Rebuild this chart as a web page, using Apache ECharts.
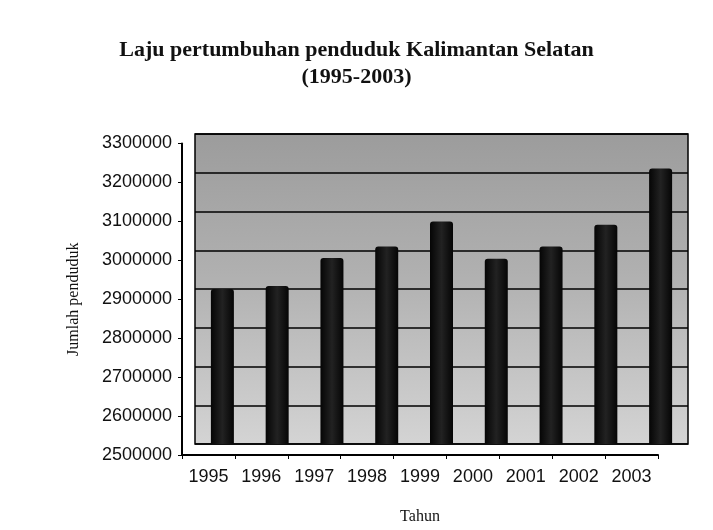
<!DOCTYPE html>
<html>
<head>
<meta charset="utf-8">
<script src="https://cdn.jsdelivr.net/npm/echarts@6/dist/echarts.min.js"></script>
<style>
  html, body { margin: 0; padding: 0; background: #fff; }
  #chart { width: 713px; height: 530px; }
</style>
</head>
<body>
<div id="chart"></div>
<script>
// data
const years = ['1995', '1996', '1997', '1998', '1999', '2000', '2001', '2002', '2003'];
const penduduk = [2900000, 2908000, 2980000, 3010000, 3074000, 2978000, 3010000, 3066000, 3211000];
const yMin = 2500000;
const yMax = 3300000;
const yStep = 100000;

const chart = echarts.init(document.getElementById('chart'), null, { renderer: 'canvas' });

const serif = '"Liberation Serif", "DejaVu Serif", serif';
const sans = '"Liberation Sans", Arial, sans-serif';

const option = {
  backgroundColor: '#ffffff',
  animation: false,
  title: {
    text: 'Laju pertumbuhan penduduk Kalimantan Selatan\n(1995-2003)',
    left: 'center',
    top: 32,
    textStyle: {
      fontFamily: serif,
      fontWeight: 'bold',
      fontSize: 22,
      lineHeight: 27,
      color: '#111'
    }
  },
  grid: [
    // dinding belakang (back wall) where the bars sit
    {
      left: 195, right: 25, top: 134, bottom: 86,
      show: true,
      backgroundColor: {
        type: 'linear', x: 0, y: 0, x2: 0, y2: 1,
        colorStops: [
          { offset: 0, color: '#9c9c9c' },
          { offset: 0.45, color: '#b0b0b0' },
          { offset: 1, color: '#d4d4d4' }
        ]
      },
      borderColor: '#000',
      borderWidth: 1.5
    },
    // front axes with the labels
    { left: 182, right: 55, top: 143.5, bottom: 75 }
  ],
  xAxis: [
    {
      gridIndex: 0,
      type: 'category',
      data: years,
      axisLine: { show: false },
      axisTick: { show: false },
      axisLabel: { show: false }
    },
    {
      gridIndex: 1,
      type: 'category',
      data: years,
      name: 'Tahun',
      nameLocation: 'middle',
      nameGap: 54,
      nameTextStyle: { fontFamily: serif, fontSize: 16, color: '#111' },
      axisLine: { lineStyle: { color: '#000', width: 2 } },
      axisTick: { show: true, length: 4, lineStyle: { color: '#000' } },
      axisLabel: { fontFamily: sans, fontSize: 18, color: '#111', margin: 13 }
    }
  ],
  yAxis: [
    {
      gridIndex: 0,
      type: 'value',
      min: yMin,
      max: yMax,
      interval: yStep,
      axisLine: { show: false },
      axisTick: { show: false },
      axisLabel: { show: false },
      splitLine: { show: true, lineStyle: { color: '#000', width: 1.5 } }
    },
    {
      gridIndex: 1,
      type: 'value',
      min: yMin,
      max: yMax,
      interval: yStep,
      name: 'Jumlah penduduk',
      nameLocation: 'middle',
      nameRotate: 90,
      nameGap: 100,
      nameTextStyle: { fontFamily: serif, fontSize: 16, color: '#111' },
      axisLine: { show: true, lineStyle: { color: '#000', width: 2 } },
      axisTick: { show: true, length: 4, lineStyle: { color: '#000' } },
      axisLabel: {
        fontFamily: sans, fontSize: 18, color: '#111', margin: 10,
        formatter: (v) => String(v)
      },
      splitLine: { show: false }
    }
  ],
  series: [
    {
      name: 'Jumlah penduduk',
      type: 'bar',
      xAxisIndex: 0,
      yAxisIndex: 0,
      data: penduduk,
      barWidth: 23,
      itemStyle: {
        color: {
          type: 'linear', x: 0, y: 0, x2: 1, y2: 0,
          colorStops: [
            { offset: 0, color: '#050505' },
            { offset: 0.5, color: '#222' },
            { offset: 1, color: '#050505' }
          ]
        },
        borderRadius: [3, 3, 0, 0]
      }
    }
  ]
};

chart.setOption(option);
</script>
</body>
</html>
